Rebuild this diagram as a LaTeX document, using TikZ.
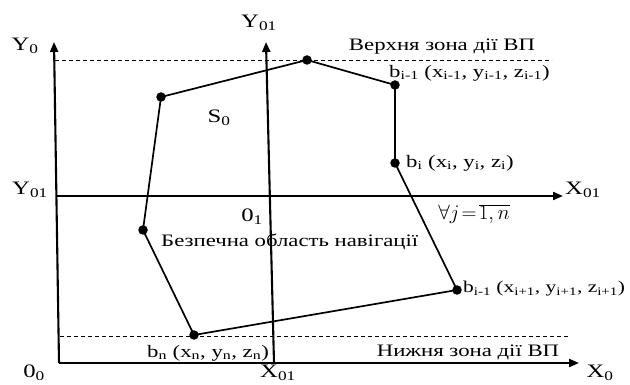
\documentclass[tikz,border=0pt]{standalone}
\usepackage{fontspec}
\setmainfont{Liberation Serif}[FakeStretch=1.3]
\usetikzlibrary{arrows.meta}
\newcommand\lw[1]{\textsubscript{#1}}
\tikzset{
  axis/.style={line width=2.1pt, -{Triangle[length=10pt,width=8pt]}},
  edge/.style={line width=1.7pt},
  zone/.style={line width=0.8pt, dash pattern=on 4pt off 3pt},
  pt/.style={circle, fill, inner sep=0pt, minimum size=9.5pt},
  lbl/.style={inner sep=0pt, font=\fontsize{17.5}{20}\selectfont},
  big/.style={inner sep=0pt, font=\fontsize{19}{21}\selectfont},
}
\begin{document}
\begin{tikzpicture}[x=1pt,y=-1pt]
\useasboundingbox (0,0) rectangle (630,385);
% axes
\coordinate (O0) at (59,363);
\coordinate (Y0top) at (54,42);
\coordinate (X0end) at (579,363);
\coordinate (Y1bot) at (274,363);
\coordinate (Y1top) at (266,42);
\coordinate (X1start) at (57,196);
\coordinate (X1end) at (563,196);
\draw[axis] (O0) -- (Y0top);
\draw[axis] (O0) -- (X0end);
\draw[axis] (Y1bot) -- (Y1top);
\draw[axis] (X1start) -- (X1end);
% zones
\coordinate (Tz1) at (55,60);
\coordinate (Tz2) at (552,60);
\coordinate (Bz1) at (60,336);
\coordinate (Bz2) at (568,336);
\draw[zone] (Tz1) -- (Tz2);
\draw[zone] (Bz1) -- (Bz2);
% polygon
\node[pt] (A) at (307,60) {};
\node[pt] (B) at (395,85) {};
\node[pt] (C) at (395,163) {};
\node[pt] (D) at (457,290) {};
\node[pt] (E) at (194,335) {};
\node[pt] (F) at (143,230) {};
\node[pt] (G) at (161,97) {};
\draw[edge] (A.center) -- (B.center) -- (C.center) -- (D.center) -- (E.center) -- (F.center) -- (G.center) -- cycle;
% labels
\node[big] (lY0) at (25,46) {Y\lw{0}};
\node[big] (lY1t) at (259,23) {Y\lw{01}};
\node[big] (lY1l) at (30,190) {Y\lw{01}};
\node[big] (lS0) at (219,118) {S\lw{0}};
\node[lbl] (lTop) at (442,47) {Верхня зона дії ВП};
\node[lbl, anchor=west] (lB) at (389,73) {b\lw{i-1} (x\lw{i-1}, y\lw{i-1}, z\lw{i-1})};
\node[lbl, anchor=west] (lC) at (406,163) {b\lw{i} (x\lw{i}, y\lw{i}, z\lw{i})};
\node[big, anchor=west] (lX1r) at (565,190) {X\lw{01}};
\node[big] (lO1) at (252,217) {0\lw{1}};
\node[inner sep=0pt, font=\fontsize{20}{22}\selectfont] (lAll) at (474,214) {$\forall j\!=\!\overline{1,n}$};
\node[lbl, anchor=west] (lSafe) at (161,242) {Безпечна область навігації};
\node[inner sep=0pt, font=\fontsize{16.5}{19}\selectfont, anchor=west] (lD) at (463,289) {b\lw{i-1} (x\lw{i+1}, y\lw{i+1}, z\lw{i+1})};
\node[lbl, anchor=west] (lE) at (147,353) {b\lw{n} (x\lw{n}, y\lw{n}, z\lw{n})};
\node[lbl] (lBot) at (468,352) {Нижня зона дії ВП};
\node[big] (lO0) at (34,373) {0\lw{0}};
\node[big] (lX1b) at (278,373) {X\lw{01}};
\node[big] (lX0) at (600,373) {X\lw{0}};
\end{tikzpicture}
\end{document}
